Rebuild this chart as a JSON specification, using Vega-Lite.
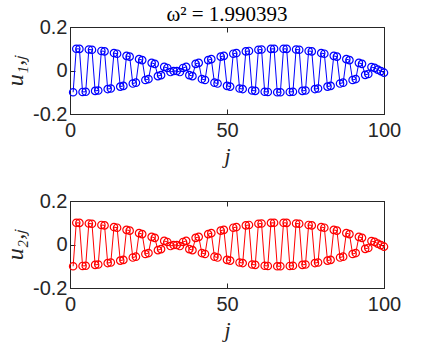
{
  "$schema": "https://vega.github.io/schema/vega-lite/v6.json",
  "padding": {"left": 3, "top": 3, "right": 5, "bottom": 5},
  "background": "white",
  "datasets": {
    "d": [
      {"j":1,"u1":-0.1000,"u2":-0.1000},{"j":2,"u1":0.0997,"u2":0.0997},{"j":3,"u1":0.0993,"u2":0.0993},{"j":4,"u1":-0.0986,"u2":-0.0986},{"j":5,"u1":-0.0977,"u2":-0.0977},
      {"j":6,"u1":0.0966,"u2":0.0966},{"j":7,"u1":0.0953,"u2":0.0953},{"j":8,"u1":-0.0937,"u2":-0.0937},{"j":9,"u1":-0.0919,"u2":-0.0919},{"j":10,"u1":0.0899,"u2":0.0899},
      {"j":11,"u1":0.0878,"u2":0.0878},{"j":12,"u1":-0.0854,"u2":-0.0854},{"j":13,"u1":-0.0828,"u2":-0.0828},{"j":14,"u1":0.0801,"u2":0.0801},{"j":15,"u1":0.0771,"u2":0.0771},
      {"j":16,"u1":-0.0740,"u2":-0.0740},{"j":17,"u1":-0.0707,"u2":-0.0707},{"j":18,"u1":0.0673,"u2":0.0673},{"j":19,"u1":0.0637,"u2":0.0637},{"j":20,"u1":-0.0599,"u2":-0.0599},
      {"j":21,"u1":-0.0560,"u2":-0.0560},{"j":22,"u1":0.0521,"u2":0.0521},{"j":23,"u1":0.0479,"u2":0.0479},{"j":24,"u1":-0.0437,"u2":-0.0437},{"j":25,"u1":-0.0394,"u2":-0.0394},
      {"j":26,"u1":0.0351,"u2":0.0351},{"j":27,"u1":0.0306,"u2":0.0306},{"j":28,"u1":-0.0259,"u2":-0.0259},{"j":29,"u1":-0.0213,"u2":-0.0213},{"j":30,"u1":0.0166,"u2":0.0166},
      {"j":31,"u1":0.0118,"u2":0.0118},{"j":32,"u1":-0.0071,"u2":-0.0071},{"j":33,"u1":-0.0024,"u2":-0.0024},{"j":34,"u1":-0.0024,"u2":-0.0024},{"j":35,"u1":-0.0071,"u2":-0.0071},
      {"j":36,"u1":0.0118,"u2":0.0118},{"j":37,"u1":0.0166,"u2":0.0166},{"j":38,"u1":-0.0213,"u2":-0.0213},{"j":39,"u1":-0.0259,"u2":-0.0259},{"j":40,"u1":0.0306,"u2":0.0306},
      {"j":41,"u1":0.0351,"u2":0.0351},{"j":42,"u1":-0.0394,"u2":-0.0394},{"j":43,"u1":-0.0437,"u2":-0.0437},{"j":44,"u1":0.0479,"u2":0.0479},{"j":45,"u1":0.0521,"u2":0.0521},
      {"j":46,"u1":-0.0560,"u2":-0.0560},{"j":47,"u1":-0.0599,"u2":-0.0599},{"j":48,"u1":0.0637,"u2":0.0637},{"j":49,"u1":0.0673,"u2":0.0673},{"j":50,"u1":-0.0707,"u2":-0.0707},
      {"j":51,"u1":-0.0740,"u2":-0.0740},{"j":52,"u1":0.0771,"u2":0.0771},{"j":53,"u1":0.0801,"u2":0.0801},{"j":54,"u1":-0.0828,"u2":-0.0828},{"j":55,"u1":-0.0854,"u2":-0.0854},
      {"j":56,"u1":0.0878,"u2":0.0878},{"j":57,"u1":0.0899,"u2":0.0899},{"j":58,"u1":-0.0919,"u2":-0.0919},{"j":59,"u1":-0.0937,"u2":-0.0937},{"j":60,"u1":0.0953,"u2":0.0953},
      {"j":61,"u1":0.0966,"u2":0.0966},{"j":62,"u1":-0.0977,"u2":-0.0977},{"j":63,"u1":-0.0986,"u2":-0.0986},{"j":64,"u1":0.0993,"u2":0.0993},{"j":65,"u1":0.0997,"u2":0.0997},
      {"j":66,"u1":-0.1000,"u2":-0.1000},{"j":67,"u1":-0.1000,"u2":-0.1000},{"j":68,"u1":0.0997,"u2":0.0997},{"j":69,"u1":0.0993,"u2":0.0993},{"j":70,"u1":-0.0986,"u2":-0.0986},
      {"j":71,"u1":-0.0977,"u2":-0.0977},{"j":72,"u1":0.0966,"u2":0.0966},{"j":73,"u1":0.0953,"u2":0.0953},{"j":74,"u1":-0.0937,"u2":-0.0937},{"j":75,"u1":-0.0919,"u2":-0.0919},
      {"j":76,"u1":0.0899,"u2":0.0899},{"j":77,"u1":0.0878,"u2":0.0878},{"j":78,"u1":-0.0854,"u2":-0.0854},{"j":79,"u1":-0.0828,"u2":-0.0828},{"j":80,"u1":0.0801,"u2":0.0801},
      {"j":81,"u1":0.0771,"u2":0.0771},{"j":82,"u1":-0.0740,"u2":-0.0740},{"j":83,"u1":-0.0707,"u2":-0.0707},{"j":84,"u1":0.0673,"u2":0.0673},{"j":85,"u1":0.0637,"u2":0.0637},
      {"j":86,"u1":-0.0599,"u2":-0.0599},{"j":87,"u1":-0.0560,"u2":-0.0560},{"j":88,"u1":0.0521,"u2":0.0521},{"j":89,"u1":0.0479,"u2":0.0479},{"j":90,"u1":-0.0437,"u2":-0.0437},
      {"j":91,"u1":-0.0394,"u2":-0.0394},{"j":92,"u1":0.0351,"u2":0.0351},{"j":93,"u1":0.0306,"u2":0.0306},{"j":94,"u1":-0.0200,"u2":-0.0200},{"j":95,"u1":-0.0160,"u2":-0.0160},
      {"j":96,"u1":0.0160,"u2":0.0160},{"j":97,"u1":0.0120,"u2":0.0120},{"j":98,"u1":0.0040,"u2":0.0040},{"j":99,"u1":-0.0030,"u2":-0.0030},{"j":100,"u1":-0.0100,"u2":-0.0100}
    ]
  },
  "spacing": 23,
  "vconcat": [
    {
      "width": 314,
      "height": 87,
      "data": {"name": "d"},
      "title": {"text": "ω² = 1.990393", "font": "Liberation Serif", "fontSize": 21, "fontWeight": "normal", "color": "black", "frame": "group", "offset": -8},
      "layer": [
        {
          "mark": {"type": "line", "color": "#0000ff", "strokeWidth": 1},
          "encoding": {
            "x": {"field": "j", "type": "quantitative", "scale": {"domain": [0, 100], "nice": false}, "axis": {"orient": "bottom", "values": [0, 50, 100], "title": "j"}},
            "y": {"field": "u1", "type": "quantitative", "scale": {"domain": [-0.2, 0.2], "nice": false}, "axis": {"orient": "left", "values": [-0.2, 0, 0.2], "title": "u₁,ⱼ", "labelExpr": "datum.value == 0 ? '0' : replace(datum.label, '−', '-')"}}
          }
        },
        {
          "mark": {"type": "point", "shape": "circle", "filled": false, "color": "#0000ff", "size": 55, "strokeWidth": 1.2, "opacity": 1},
          "encoding": {
            "x": {"field": "j", "type": "quantitative", "axis": {"orient": "top", "values": [0, 50, 100], "labels": false, "title": null, "labelPadding": 0}},
            "y": {"field": "u1", "type": "quantitative", "axis": {"orient": "right", "values": [-0.2, 0, 0.2], "labels": false, "title": null, "labelPadding": 0}}
          }
        }
      ],
      "resolve": {"axis": {"x": "independent", "y": "independent"}}
    },
    {
      "width": 314,
      "height": 87,
      "data": {"name": "d"},
      "layer": [
        {
          "mark": {"type": "line", "color": "#ff0000", "strokeWidth": 1},
          "encoding": {
            "x": {"field": "j", "type": "quantitative", "scale": {"domain": [0, 100], "nice": false}, "axis": {"orient": "bottom", "values": [0, 50, 100], "title": "j"}},
            "y": {"field": "u2", "type": "quantitative", "scale": {"domain": [-0.2, 0.2], "nice": false}, "axis": {"orient": "left", "values": [-0.2, 0, 0.2], "title": "u₂,ⱼ", "labelExpr": "datum.value == 0 ? '0' : replace(datum.label, '−', '-')"}}
          }
        },
        {
          "mark": {"type": "point", "shape": "circle", "filled": false, "color": "#ff0000", "size": 55, "strokeWidth": 1.2, "opacity": 1},
          "encoding": {
            "x": {"field": "j", "type": "quantitative", "axis": {"orient": "top", "values": [0, 50, 100], "labels": false, "title": null, "labelPadding": 0}},
            "y": {"field": "u2", "type": "quantitative", "axis": {"orient": "right", "values": [-0.2, 0, 0.2], "labels": false, "title": null, "labelPadding": 0}}
          }
        }
      ],
      "resolve": {"axis": {"x": "independent", "y": "independent"}}
    }
  ],
  "config": {
    "view": {"stroke": "#262626", "strokeWidth": 1},
    "axis": {
      "grid": false,
      "domainColor": "#262626",
      "domainWidth": 1,
      "tickColor": "#262626",
      "tickSize": -5,
      "tickWidth": 1,
      "labelFont": "Liberation Sans",
      "labelFontSize": 20,
      "labelColor": "#262626",
      "labelPadding": 8,
      "labelFlush": false,
      "labelOverlap": false,
      "titleFont": "Liberation Serif",
      "titleFontStyle": "italic",
      "titleFontWeight": "normal",
      "titleFontSize": 22,
      "titleColor": "#262626"
    },
    "axisLeft": {"titleFontSize": 24, "titlePadding": 5},
    "axisBottom": {"labelPadding": 11, "titlePadding": 5}
  }
}
